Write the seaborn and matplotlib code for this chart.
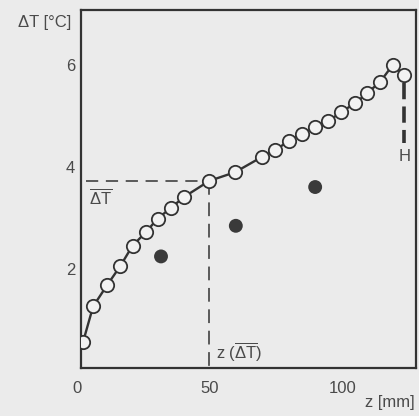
import matplotlib
matplotlib.use("Agg")
import matplotlib.pyplot as plt
import matplotlib.transforms as mtransforms
import seaborn as sns
import pandas as pd

# ---- data ----
z_open = [2.3, 6.1, 11.4, 16.3, 20.9, 26.0, 30.3, 35.3, 40.1, 49.7, 59.4,
          69.5, 74.4, 79.5, 84.5, 89.5, 94.5, 99.2, 104.5, 109.0, 113.9,
          118.6, 122.7]
dT_open = [0.57, 1.27, 1.69, 2.06, 2.46, 2.73, 2.99, 3.20, 3.41, 3.73, 3.90,
           4.20, 4.33, 4.51, 4.65, 4.78, 4.90, 5.08, 5.25, 5.45, 5.67,
           6.00, 5.80]
z_fill = [31.6, 59.7, 89.5]
dT_fill = [2.25, 2.85, 3.61]
z_bar = 49.7          # z(mean ΔT)
dT_bar = 3.72         # mean ΔT
z_H = 122.7           # height H marker
H_top, H_bottom = 5.65, 4.47
x_ticks = [50, 100]
x_tick_labels = ["50", "100"]
y_ticks = [2, 3, 4, 5, 6]
y_tick_labels = ["2", "", "4", "", "6"]

sns.set_theme(style="white")
plt.rcParams["font.family"] = ["Liberation Sans", "DejaVu Sans"]
plt.rcParams["mathtext.fontset"] = "custom"
plt.rcParams["mathtext.rm"] = "Liberation Sans"

bg = "#ebebeb"
ink = "#333333"
txt = "#4a4a4a"

fig = plt.figure(figsize=(4.19, 4.16), dpi=100, facecolor=bg)
ax = fig.add_axes([0.193, 0.115, 0.800, 0.861], facecolor=bg)

df_open = pd.DataFrame({"z": z_open, "dT": dT_open})
df_fill = pd.DataFrame({"z": z_fill, "dT": dT_fill})

sns.lineplot(data=df_open, x="z", y="dT", ax=ax, sort=False, color=ink,
             lw=1.7, marker="o", markersize=9.6, markerfacecolor="#f2f2f2",
             markeredgecolor=ink, markeredgewidth=1.3, zorder=3)
sns.scatterplot(data=df_fill, x="z", y="dT", ax=ax, color="#3a3a3a", s=100,
                edgecolor="none", zorder=3)

ax.set_xlim(1.5, 127.4)
ax.set_ylim(0.06, 7.08)

# dashed guide lines for mean ΔT
ax.plot([3.4, z_bar], [dT_bar, dT_bar], color=ink, lw=1.1,
        dashes=(8, 5), zorder=2)
ax.plot([z_bar, z_bar], [dT_bar, 0.06], color=ink, lw=1.1,
        dashes=(9, 5), zorder=2)
# H marker
ax.plot([z_H, z_H], [H_top, H_bottom], color=ink, lw=2.6,
        dashes=(4.5, 2), solid_capstyle="butt", zorder=2)

ax.text(4.5, dT_bar - 0.12, r"$\overline{\Delta\mathrm{T}}$", ha="left",
        va="top", fontsize=12, color=txt)
ax.text(z_bar + 2.5, 0.15, r"z ($\overline{\Delta\mathrm{T}}$)", ha="left",
        va="bottom", fontsize=12, color=txt)
ax.text(z_H + 0.3, H_bottom - 0.12, "H", ha="center", va="top",
        fontsize=12, color=txt)

for s in ax.spines.values():
    s.set_color(ink)
    s.set_linewidth(1.6)

ax.set_xticks(x_ticks, x_tick_labels)
ax.set_yticks(y_ticks, y_tick_labels)
ax.tick_params(axis="both", direction="in", length=6, width=1.5,
               colors=ink, labelcolor=txt, labelsize=12)
ax.tick_params(axis="x", pad=9)
ax.tick_params(axis="y", pad=4)
ax.set_xlabel("")
ax.set_ylabel("")

# tick label "0" at the origin (just left of the view limit)
trans = mtransforms.blended_transform_factory(ax.transData, ax.transAxes)
ax.text(0, -0.036, "0", transform=trans, ha="center", va="top",
        fontsize=12, color=txt, clip_on=False)

fig.text(45 / 419, 1 - 22 / 416, "ΔT [°C]", ha="center", va="center",
         fontsize=12, color=txt)
fig.text(390 / 419, 1 - 403 / 416, "z [mm]", ha="center", va="center",
         fontsize=12, color=txt)

fig.savefig("out.png", dpi=100, facecolor=bg)
